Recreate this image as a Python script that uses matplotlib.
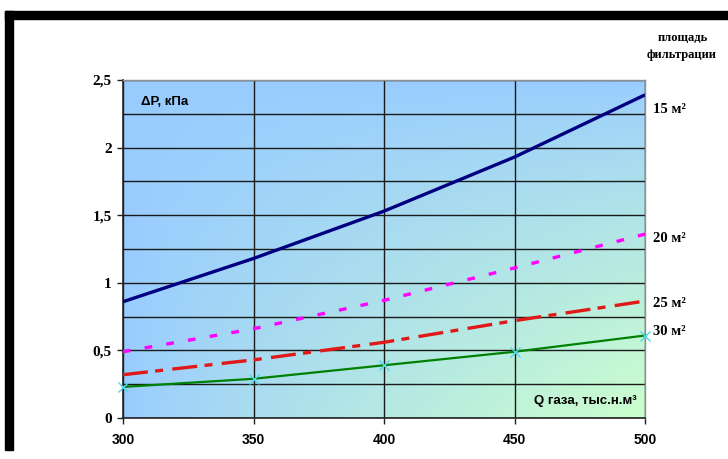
import numpy as np
import matplotlib
matplotlib.use('Agg')
import matplotlib.pyplot as plt
from matplotlib.patches import Rectangle
import matplotlib.transforms as mtransforms

# Data
q_gas = [300, 350, 400, 450, 500]
dp_15 = [0.86, 1.18, 1.53, 1.93, 2.39]
dp_20 = [0.49, 0.66, 0.87, 1.11, 1.36]
dp_25 = [0.32, 0.43, 0.56, 0.72, 0.865]
dp_30 = [0.23, 0.29, 0.39, 0.49, 0.61]
area_labels = ['15 м²', '20 м²', '25 м²', '30 м²']
x_ticks = [300, 350, 400, 450, 500]
y_ticks = [0, 0.5, 1, 1.5, 2, 2.5]
y_tick_labels = ['0', '0,5', '1', '1,5', '2', '2,5']

fig = plt.figure(figsize=(7.28, 4.59), dpi=100)
ax = fig.add_axes([123 / 728, 1 - 418 / 459, 522 / 728, 338 / 459])

# gradient background: blue top-left -> light green bottom-right
nx, ny = 200, 200
xf = np.linspace(0, 1, nx)[None, :]
yf = np.linspace(0, 1, ny)[:, None]   # 0 at top
t = np.clip((xf * yf) ** 0.8, 0, 1)
c0 = np.array([0x99, 0xcc, 0xff]) / 255
c1 = np.array([0xcc, 0xff, 0xcc]) / 255
grad = c0[None, None, :] * (1 - t[..., None]) + c1[None, None, :] * t[..., None]
ax.imshow(grad, extent=[0, 1, 0, 1], transform=ax.transAxes, aspect='auto',
          zorder=0, interpolation='bilinear')

# series
ax.plot(q_gas, dp_15, color='#000080', lw=2.4, solid_capstyle='butt', zorder=3)
ax.plot(q_gas, dp_20, color='#ff00ff', lw=2.4, dashes=(2.3, 4.3),
        dash_capstyle='butt', zorder=3)
ax.plot(q_gas, dp_25, color='#e01818', lw=2.4, dashes=(7.5, 2.2, 2.4, 2.8),
        dash_capstyle='butt', zorder=3)
ax.plot(q_gas, dp_30, color='#008000', lw=1.6, marker='x', ms=7,
        mec='#50d8e8', mew=1.0, zorder=3, clip_on=False)

ax.set_xlim(300, 500)
ax.set_ylim(0, 2.5)
ax.set_xticks(x_ticks)
ax.set_xticklabels([str(v) for v in x_ticks], fontfamily='Liberation Sans',
                   fontweight='bold', fontsize=10)
ax.set_yticks(y_ticks)
ax.set_yticklabels(y_tick_labels, fontfamily='Liberation Serif',
                   fontweight='bold', fontsize=11)
ax.set_yticks(np.arange(0.25, 2.5, 0.5), minor=True)
ax.tick_params(axis='both', which='major', direction='out', length=4,
               width=1, color='#222222')
ax.tick_params(axis='x', pad=7)
ax.tick_params(axis='y', pad=4)
ax.tick_params(axis='y', which='minor', length=0)

ax.grid(True, which='both', axis='y', color='#1a1a1a', lw=1.0, zorder=1)
ax.grid(True, which='major', axis='x', color='#1a1a1a', lw=1.0, zorder=1)
ax.set_axisbelow(True)

for side in ['left', 'bottom']:
    ax.spines[side].set_color('#222222')
    ax.spines[side].set_linewidth(1.2)
for side in ['top', 'right']:
    ax.spines[side].set_color('#909090')
    ax.spines[side].set_linewidth(1.0)

# axis captions inside the plot
ax.text(0.035, 0.935, 'ΔР, кПа', transform=ax.transAxes, fontsize=9.5,
        fontweight='bold', fontfamily='Liberation Sans', va='center', ha='left')
ax.text(0.985, 0.05, 'Q газа, тыс.н.м³', transform=ax.transAxes, fontsize=9.5,
        fontweight='bold', fontfamily='Liberation Sans', va='center', ha='right')

# area labels on the right
trans = mtransforms.blended_transform_factory(ax.transAxes, ax.transData)
label_offsets = [-0.11, -0.03, -0.015, 0.03]
for ser, lab, off in zip([dp_15, dp_20, dp_25, dp_30], area_labels, label_offsets):
    ax.text(1.015, ser[-1] + off, lab, transform=trans, fontsize=10.5,
            fontweight='bold', fontfamily='Liberation Serif', va='center',
            ha='left')

fig.text(658 / 728, 1 - 38 / 459, 'площадь', fontsize=9, fontweight='bold',
         fontfamily='Liberation Serif', va='center', ha='left')
fig.text(647 / 728, 1 - 55 / 459, 'фильтрации', fontsize=9, fontweight='bold',
         fontfamily='Liberation Serif', va='center', ha='left')

# black frame bars (top and left)
fig.patches.append(Rectangle((5 / 728, 1 - 19 / 459), 1, 8 / 459,
                             transform=fig.transFigure, color='black', zorder=5))
fig.patches.append(Rectangle((5 / 728, 1 - 450 / 459), 8 / 728, 439 / 459,
                             transform=fig.transFigure, color='black', zorder=5))

fig.savefig('out.png', dpi=100)
